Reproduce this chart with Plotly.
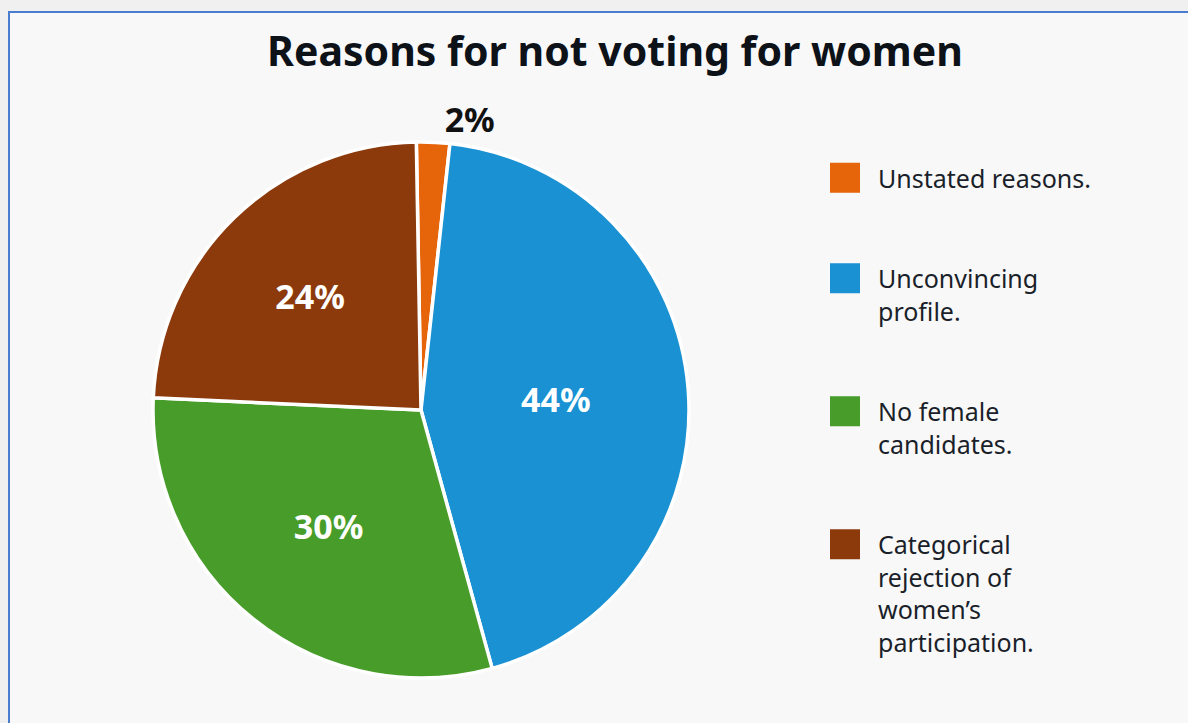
import plotly.graph_objects as go

labels = ["Unstated reasons.", "Unconvincing profile.", "No female candidates.",
          "Categorical rejection of women’s participation."]
legend_labels = ["Unstated reasons.<br> <br> ",
                 "Unconvincing<br>profile.<br> <br> ",
                 "No female<br>candidates.<br> <br> ",
                 "Categorical<br>rejection of<br>women’s<br>participation."]
values = [2, 44, 30, 24]
colors = ["#E6640A", "#1991D2", "#489D2A", "#8C3A0C"]
text_labels = ["2%", "44%", "30%", "24%"]
text_colors = ["#111111", "white", "white", "white"]
positions = ["outside", "inside", "inside", "inside"]

W, H = 1188, 723
cx, cy, R = 421, 410, 268

fig = go.Figure(go.Pie(
    labels=legend_labels,
    values=values,
    text=text_labels,
    textinfo="text",
    textposition=positions,
    insidetextorientation="horizontal",
    sort=False,
    direction="clockwise",
    rotation=-1,
    marker=dict(colors=colors, line=dict(color="white", width=3.5)),
    textfont=dict(family="Noto Sans", size=34, color=text_colors, weight="bold"),
    outsidetextfont=dict(family="Noto Sans", size=34, color="#111111", weight="bold"),
    domain=dict(x=[(cx - R) / W, (cx + R) / W], y=[(H - cy - R) / H, (H - cy + R) / H]),
    hoverinfo="label+percent",
))

fig.update_layout(
    width=W, height=H,
    margin=dict(l=0, r=0, t=0, b=0),
    paper_bgcolor="#F0F0F0",
    plot_bgcolor="#F8F8F8",
    font=dict(family="Noto Sans", color="#1a1f2a"),
    title=dict(text="<b>Reasons for not voting for women</b>", x=615 / W, y=1 - 52 / H,
               xanchor="center", yanchor="middle",
               font=dict(family="Noto Sans", size=41, color="#0d1118")),
    legend=dict(x=826 / W, y=1 - 155 / H, xanchor="left", yanchor="top",
                itemwidth=42,
                font=dict(family="Noto Sans", size=25, color="#1a1f2a"),
                valign="top", bgcolor="rgba(0,0,0,0)"),
    shapes=[dict(type="rect", xref="paper", yref="paper",
                 x0=9 / W, x1=1.02, y0=-0.02, y1=1 - 12 / H,
                 line=dict(color="#4A7DD0", width=2), fillcolor="#F8F8F8", layer="below")],
)

post = """
var gd = document.getElementById('{plot_id}');
function bigSwatches(){
  gd.querySelectorAll('path.legendpie').forEach(function(p){
    if (p.getAttribute('data-big')) return;
    var t = p.getAttribute('transform') || '';
    p.setAttribute('d','M15,15H-15V-15H15Z');
    p.setAttribute('transform', t + ' translate(-7,0)');
    p.setAttribute('data-big','1');
    p.style.strokeWidth='0';
  });
}
bigSwatches();
gd.on('plotly_afterplot', bigSwatches);
"""

fig.write_html("out.html", post_script=post)
